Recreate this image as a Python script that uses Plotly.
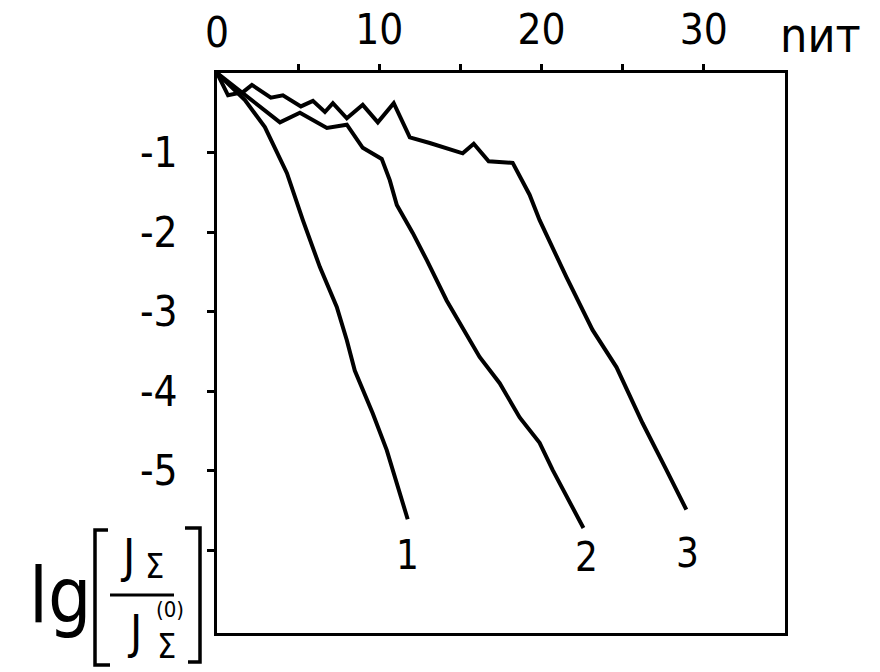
import plotly.graph_objects as go

# ---- data ----
c1_x = [0, 1.72, 2.95, 3.88, 4.31, 5.29, 6.34, 7.38, 8.0, 8.49, 9.6, 10.46, 11.08, 11.75]
c1_y = [0, -0.34, -0.68, -1.06, -1.26, -1.85, -2.44, -2.94, -3.36, -3.74, -4.28, -4.74, -5.16, -5.61]

c2_x = [0, 1.9, 3.88, 5.11, 5.91, 6.77, 8.0, 8.98, 10.15, 10.65, 11.08, 12.06, 12.92,
        14.15, 16.18, 17.42, 18.65, 19.88, 20.68, 21.11, 22.58]
c2_y = [0, -0.30, -0.62, -0.50, -0.59, -0.69, -0.65, -0.94, -1.08, -1.35, -1.66, -2.01, -2.35,
        -2.86, -3.57, -3.90, -4.33, -4.65, -4.99, -5.16, -5.72]

c3_x = [0, 0.68, 1.6, 2.15, 3.32, 4.06, 5.17, 5.91, 6.65, 7.14, 8.0, 8.98, 9.91, 10.89,
        11.88, 13.11, 15.14, 15.82, 16.74, 18.22, 19.26, 19.88, 21.54, 23.14, 24.62,
        26.22, 27.69, 28.92]
c3_y = [0, -0.28, -0.24, -0.15, -0.31, -0.28, -0.42, -0.35, -0.49, -0.38, -0.57, -0.40,
        -0.62, -0.38, -0.81, -0.88, -1.01, -0.89, -1.11, -1.13, -1.53, -1.85, -2.57,
        -3.23, -3.70, -4.40, -4.99, -5.49]

curve_labels = ["1", "2", "3"]
label_x = [11.75, 22.77, 28.98]
label_y = [-6.06, -6.09, -6.03]

x_tickvals = [5, 10, 15, 20, 25, 30]
x_ticktext = ["", "10", "", "20", "", "30"]
y_tickvals = [-1, -2, -3, -4, -5, -6]
y_ticktext = ["-1", "-2", "-3", "-4", "-5", ""]

# ---- figure ----
W, H = 880, 672
L, R, T, B = 217, 785, 73, 633
FONT = "Liberation Sans Narrow, DejaVu Sans Condensed, Arial Narrow, sans-serif"


def px(xp):
    return (xp - L) / (R - L)


def py(yp):
    return (B - yp) / (B - T)


def ann(x, y, text, size, xref="paper", yref="paper"):
    return dict(x=x, y=y, xref=xref, yref=yref, text=text, showarrow=False,
                xanchor="center", yanchor="middle",
                font=dict(family=FONT, size=size, color="black"))


fig = go.Figure()
for xs, ys in [(c1_x, c1_y), (c2_x, c2_y), (c3_x, c3_y)]:
    fig.add_trace(go.Scatter(x=xs, y=ys, mode="lines",
                             line=dict(color="black", width=4),
                             showlegend=False, hoverinfo="skip", cliponaxis=False))

annotations = []
for t, xv, yv in zip(curve_labels, label_x, label_y):
    annotations.append(ann(xv, yv, t, 40, xref="x", yref="y"))

# "0" at the origin of the top axis and axis name
annotations.append(ann(0, py(32), "0", 42, xref="x"))
annotations.append(ann(px(820), py(35), "nит", 48))

# y-axis title: lg[ J_Σ / J_Σ^(0) ]
annotations.append(ann(px(60), py(595), "lg", 76))
annotations.append(ann(px(128), py(556), "J", 46))
annotations.append(ann(px(154), py(566), "Σ", 34))
annotations.append(ann(px(134), py(632), "J", 46))
annotations.append(ann(px(166), py(646), "Σ", 34))
annotations.append(ann(px(170), py(609), "(0)", 22))

shapes = [
    # fraction bar
    dict(type="line", xref="paper", yref="paper", x0=px(110), x1=px(174), y0=py(595), y1=py(595),
         line=dict(color="black", width=3)),
    # left bracket
    dict(type="path", xref="paper", yref="paper",
         path=f"M {px(108)},{py(530)} L {px(95)},{py(530)} L {px(95)},{py(665)} L {px(110)},{py(665)}",
         line=dict(color="black", width=3.5)),
    # right bracket
    dict(type="path", xref="paper", yref="paper",
         path=f"M {px(185)},{py(528)} L {px(200)},{py(528)} L {px(200)},{py(662)} L {px(188)},{py(662)}",
         line=dict(color="black", width=3.5)),
]

fig.update_layout(
    width=W, height=H, autosize=False,
    margin=dict(l=L, r=W - R, t=T, b=H - B, pad=0, autoexpand=False),
    paper_bgcolor="white", plot_bgcolor="white",
    showlegend=False,
    annotations=annotations,
    shapes=shapes,
    xaxis=dict(side="top", range=[0, 35], showgrid=False, zeroline=False, automargin=False,
               showline=True, mirror=True, linecolor="black", linewidth=3,
               ticks="outside", ticklen=6, tickwidth=2.5, tickcolor="black",
               tickvals=x_tickvals, ticktext=x_ticktext, ticklabelstandoff=3,
               tickfont=dict(family=FONT, size=42, color="black")),
    yaxis=dict(range=[-7.04, 0], showgrid=False, zeroline=False, automargin=False,
               showline=True, mirror=True, linecolor="black", linewidth=3,
               ticks="outside", ticklen=7, tickwidth=2.5, tickcolor="black",
               tickvals=y_tickvals, ticktext=y_ticktext, ticklabelstandoff=21,
               tickfont=dict(family=FONT, size=42, color="black")),
)

fig.write_html("out.html", config={"displayModeBar": False},
               post_script="document.body.style.margin='0';document.body.style.overflow='hidden';")
